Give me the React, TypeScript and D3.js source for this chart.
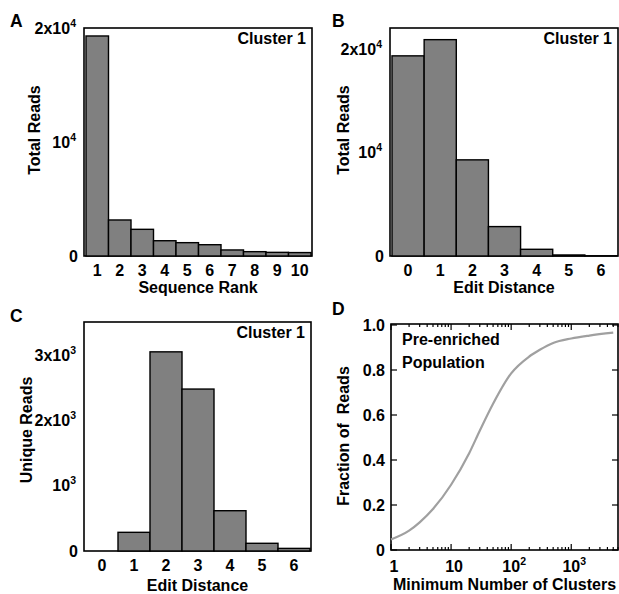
import { useRef, useEffect } from 'react';
import * as d3 from 'd3';

// panel A: reads per sequence rank
const rankLabels = ['1', '2', '3', '4', '5', '6', '7', '8', '9', '10'];
const rankReads = [19300, 3160, 2340, 1340, 1170, 990, 530, 380, 320, 300];

// panels B and C: edit distance
const editLabels = ['0', '1', '2', '3', '4', '5', '6'];
const editTotalReads = [19400, 20970, 9320, 2850, 650, 100, 20];
const editUniqueReads = [0, 286, 3050, 2480, 617, 118, 40];

// panel D: cumulative fraction of reads
const clusterCounts = [1, 2, 3, 5, 10, 20, 30, 50, 100, 200, 300, 500, 1000, 2000, 5000];
const readFraction = [0.047, 0.086, 0.123, 0.182, 0.29, 0.43, 0.53, 0.65, 0.785, 0.86, 0.89, 0.92, 0.94, 0.953, 0.966];

const FONT = 'Liberation Sans, Arial, sans-serif';
const FS = 16;

export default function App() {
  const svgRef = useRef<SVGSVGElement>(null);

  useEffect(() => {
    const svg = d3.select(svgRef.current);
    svg.selectAll('*').remove();
    svg.attr('font-family', FONT).attr('font-weight', 'bold');

    // tick label, optionally "mantissa 10^exp"
    const powLabel = (g, x, y, pre, exp, anchor) => {
      const t = g
        .append('text')
        .attr('x', x)
        .attr('y', y + 5.5)
        .attr('text-anchor', anchor)
        .attr('font-size', FS);
      t.append('tspan').text(pre);
      if (exp) t.append('tspan').attr('dy', -7).attr('font-size', 10.5).text(exp);
    };

    const barPanel = (opts) => {
      const { x0, x1, y0, y1, labels, values, max, letter, yTitle, xTitle, yTicks } = opts;
      const g = svg.append('g');
      const xScale = d3.scaleBand().domain(labels).range([x0 + 2, x1 - 1]).padding(0);
      const yScale = d3.scaleLinear().domain([0, max]).range([y1, y0]);

      g.append('rect')
        .attr('x', x0)
        .attr('y', y0)
        .attr('width', x1 - x0)
        .attr('height', y1 - y0)
        .attr('fill', 'none')
        .attr('stroke', '#000')
        .attr('stroke-width', 1.6);

      g.selectAll('.bar')
        .data(values)
        .join('rect')
        .attr('class', 'bar')
        .attr('x', (d, i) => xScale(labels[i]))
        .attr('width', xScale.bandwidth())
        .attr('y', (d) => yScale(d))
        .attr('height', (d) => y1 - yScale(d))
        .attr('fill', '#808080')
        .attr('stroke', '#000')
        .attr('stroke-width', 1.4)
        .attr('display', (d) => (d > 0 ? null : 'none'));

      labels.forEach((l) => {
        g.append('text')
          .attr('x', xScale(l) + xScale.bandwidth() / 2)
          .attr('y', y1 + 20)
          .attr('text-anchor', 'middle')
          .attr('font-size', FS)
          .text(l);
      });

      yTicks.forEach(([v, pre, exp]) => powLabel(g, x0 - (exp ? 8 : 6), yScale(v), pre, exp, 'end'));

      g.append('text')
        .attr('x', x1 - 6)
        .attr('y', y0 + 16)
        .attr('text-anchor', 'end')
        .attr('font-size', FS)
        .text('Cluster 1');

      g.append('text')
        .attr('x', (x0 + x1) / 2)
        .attr('y', opts.xTitleY)
        .attr('text-anchor', 'middle')
        .attr('font-size', FS)
        .text(xTitle);

      g.append('text')
        .attr('transform', `translate(${opts.titleX}, ${opts.titleY}) rotate(-90)`)
        .attr('text-anchor', 'middle')
        .attr('dominant-baseline', 'middle')
        .attr('font-size', FS)
        .text(yTitle);

      g.append('text')
        .attr('x', letter[1])
        .attr('y', letter[2])
        .attr('font-size', 17.5)
        .text(letter[0]);
    };

    barPanel({
      x0: 84, x1: 312, y0: 28, y1: 256, labels: rankLabels, values: rankReads, max: 20000,
      letter: ['A', 10, 27], yTitle: 'Total Reads', xTitle: 'Sequence Rank', titleX: 36, titleY: 130, xTitleY: 293,
      yTicks: [[0, '0', ''], [10000, '10', '4'], [20000, '2x10', '4']],
    });
    barPanel({
      x0: 390, x1: 618, y0: 28, y1: 256, labels: editLabels, values: editTotalReads, max: 22100,
      letter: ['B', 332, 27], yTitle: 'Total Reads', xTitle: 'Edit Distance', titleX: 345, titleY: 130, xTitleY: 293,
      yTicks: [[0, '0', ''], [10000, '10', '4'], [20000, '2x10', '4']],
    });
    barPanel({
      x0: 84, x1: 311, y0: 322, y1: 551, labels: editLabels, values: editUniqueReads, max: 3507,
      letter: ['C', 10, 322], yTitle: 'Unique Reads', xTitle: 'Edit Distance', titleX: 28, titleY: 430, xTitleY: 591,
      yTicks: [[0, '0', ''], [1000, '10', '3'], [2000, '2x10', '3'], [3000, '3x10', '3']],
    });

    // panel D: line on a log x axis
    const dx0 = 391, dx1 = 618, dy0 = 324, dy1 = 550;
    const gd = svg.append('g');
    const xLog = d3.scaleLog().domain([1, 6000]).range([dx0, dx1]);
    const yLin = d3.scaleLinear().domain([0, 1]).range([dy1, dy0 + 1]);

    const logTicks = xLog.ticks();
    const isMajor = (d) => Math.abs(Math.log10(d) - Math.round(Math.log10(d))) < 1e-9;
    [
      [dy1, -1],
      [dy0, 1],
    ].forEach(([base, dir]) => {
      gd.append('g')
        .selectAll('line')
        .data(logTicks)
        .join('line')
        .attr('x1', (d) => xLog(d))
        .attr('x2', (d) => xLog(d))
        .attr('y1', base)
        .attr('y2', (d) => base + dir * (isMajor(d) ? 6 : 3))
        .attr('stroke', '#000')
        .attr('stroke-width', 1.2);
    });

    const yTicksD = yLin.ticks(5);
    yTicksD.forEach((v) => {
      gd.append('line').attr('x1', dx0).attr('x2', dx0 + 6).attr('y1', yLin(v)).attr('y2', yLin(v)).attr('stroke', '#000').attr('stroke-width', 1.2);
      gd.append('line').attr('x1', dx1).attr('x2', dx1 - 6).attr('y1', yLin(v)).attr('y2', yLin(v)).attr('stroke', '#000').attr('stroke-width', 1.2);
      powLabel(gd, dx0 - 6, yLin(v), v === 0 ? '0' : v.toFixed(1), '', 'end');
    });

    gd.append('rect')
      .attr('x', dx0)
      .attr('y', dy0)
      .attr('width', dx1 - dx0)
      .attr('height', dy1 - dy0)
      .attr('fill', 'none')
      .attr('stroke', '#000')
      .attr('stroke-width', 1.6);

    const line = d3
      .line()
      .x((d) => xLog(d[0]))
      .y((d) => yLin(d[1]))
      .curve(d3.curveMonotoneX);
    gd.append('path')
      .datum(clusterCounts.map((c, i) => [c, readFraction[i]]))
      .attr('d', line)
      .attr('fill', 'none')
      .attr('stroke', '#a0a0a0')
      .attr('stroke-width', 2.2);

    [[1, '1', ''], [10, '10', ''], [100, '10', '2'], [1000, '10', '3']].forEach(([v, pre, exp]) => {
      const t = gd
        .append('text')
        .attr('x', xLog(v) + 3)
        .attr('y', dy1 + 22)
        .attr('text-anchor', 'middle')
        .attr('font-size', FS);
      t.append('tspan').text(pre);
      if (exp) t.append('tspan').attr('dy', -7).attr('font-size', 10.5).text(exp);
    });

    gd.append('text').attr('x', 402).attr('y', 345).attr('font-size', FS).text('Pre-enriched');
    gd.append('text').attr('x', 402).attr('y', 368).attr('font-size', FS).text('Population');

    gd.append('text')
      .attr('x', (dx0 + dx1) / 2)
      .attr('y', 590)
      .attr('text-anchor', 'middle')
      .attr('font-size', FS)
      .text('Minimum Number of Clusters');
    gd.append('text')
      .attr('transform', `translate(345, 436) rotate(-90)`)
      .attr('text-anchor', 'middle')
      .attr('dominant-baseline', 'middle')
      .attr('font-size', FS)
      .style('white-space', 'pre')
      .text('Fraction of  Reads');
    gd.append('text').attr('x', 332).attr('y', 315).attr('font-size', 17.5).text('D');
  }, []);

  return (
    <div>
      <svg ref={svgRef} width={619} height={594} style={{ position: 'absolute', left: 0, top: 0 }} />
    </div>
  );
}
